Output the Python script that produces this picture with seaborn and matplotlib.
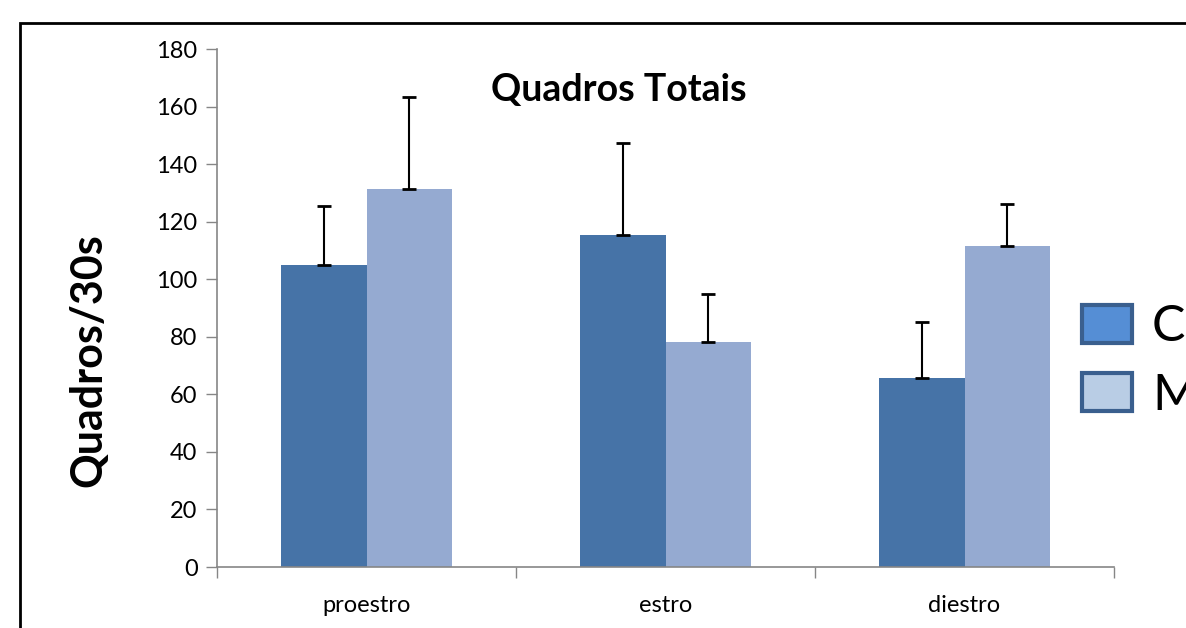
import matplotlib
matplotlib.use("Agg")
import matplotlib.pyplot as plt
import seaborn as sns
import pandas as pd
from matplotlib.patches import Patch, Rectangle

# data
stages = ["proestro", "estro", "diestro"]
groups = ["Controle", "Metanfetamina"]
means_ctrl = [105, 115.5, 65.8]
means_trat = [131.3, 78.3, 111.5]
err_ctrl = [20.5, 31.7, 19.3]
err_trat = [32.0, 16.6, 14.6]

df = pd.DataFrame({
    "stage": stages * 2,
    "group": [groups[0]] * 3 + [groups[1]] * 3,
    "value": means_ctrl + means_trat,
})

sns.set_style("white")
plt.rcParams["font.family"] = ["Lato", "DejaVu Sans"]
plt.rcParams["text.color"] = "black"
plt.rcParams["xtick.color"] = "black"
plt.rcParams["ytick.color"] = "black"

bar_colors = ["#4673A7", "#95AAD1"]
fig = plt.figure(figsize=(11.86, 6.28), dpi=100)
ax = fig.add_axes([217 / 1186, 1 - 567 / 628, (1114 - 217) / 1186, (567 - 49) / 628])

sns.barplot(data=df, x="stage", y="value", hue="group", order=stages,
            hue_order=groups, palette=bar_colors, width=0.57, gap=0,
            saturation=1, linewidth=0, legend=False, ax=ax)

# error bars (upper only), placed on the bar centres
bars = [p for p in ax.patches if p.get_height() > 0]
bars = sorted(bars, key=lambda p: p.get_x())
lookup = {}
for i, s in enumerate(stages):
    lookup[(s, groups[0])] = (means_ctrl[i], err_ctrl[i])
    lookup[(s, groups[1])] = (means_trat[i], err_trat[i])
for p in bars:
    xc = p.get_x() + p.get_width() / 2
    h = p.get_height()
    e = [v[1] for v in lookup.values() if abs(v[0] - h) < 1e-6][0]
    ax.errorbar(xc, h, yerr=[[0], [e]], fmt="none", ecolor="black",
                elinewidth=1.5, capsize=5, capthick=2)

ax.set_xlim(-0.5, 2.5)
ax.set_ylim(0, 180)
ax.set_yticks(range(0, 181, 20))
ax.set_xlabel("")
ax.set_ylabel("")
ax.tick_params(axis="y", labelsize=17, length=8, width=1, color="#868686",
               labelcolor="black", direction="out", left=True, pad=6)
ax.tick_params(axis="x", which="major", labelsize=17, length=0, pad=20,
               labelcolor="black")
ax.set_xticks([-0.5, 0.5, 1.5, 2.5], minor=True)
ax.tick_params(axis="x", which="minor", length=8, width=1, color="#868686",
               direction="out", bottom=True)
for side in ["top", "right"]:
    ax.spines[side].set_visible(False)
for side in ["left", "bottom"]:
    ax.spines[side].set_color("#868686")
    ax.spines[side].set_linewidth(1.2)

fig.text(619 / 1186, 1 - 90 / 628, "Quadros Totais", ha="center", va="center",
         fontsize=27, fontweight="bold")
fig.text(88 / 1186, 1 - 360 / 628, "Quadros/30s", ha="center", va="center",
         rotation=90, fontsize=31, fontweight="bold")

# legend (cut by the right edge like in the source)
handles = [Patch(facecolor="#558ED5", edgecolor="#3A5F8E", linewidth=3),
           Patch(facecolor="#B9CDE5", edgecolor="#3A5F8E", linewidth=3)]
fig.legend(handles, groups, loc="upper left",
           bbox_to_anchor=(1082 / 1186, 1 - 304 / 628), frameon=False,
           fontsize=36, handlelength=1.0, handleheight=0.8,
           handletextpad=0.4, labelspacing=0.45, borderaxespad=0,
           borderpad=0)

# outer frame
fig.patches.append(Rectangle((20 / 1186, -0.1), 1.2, 1 - 23 / 628 + 0.1,
                             transform=fig.transFigure, fill=False,
                             edgecolor="black", linewidth=2))

fig.savefig("out.png", dpi=100)
